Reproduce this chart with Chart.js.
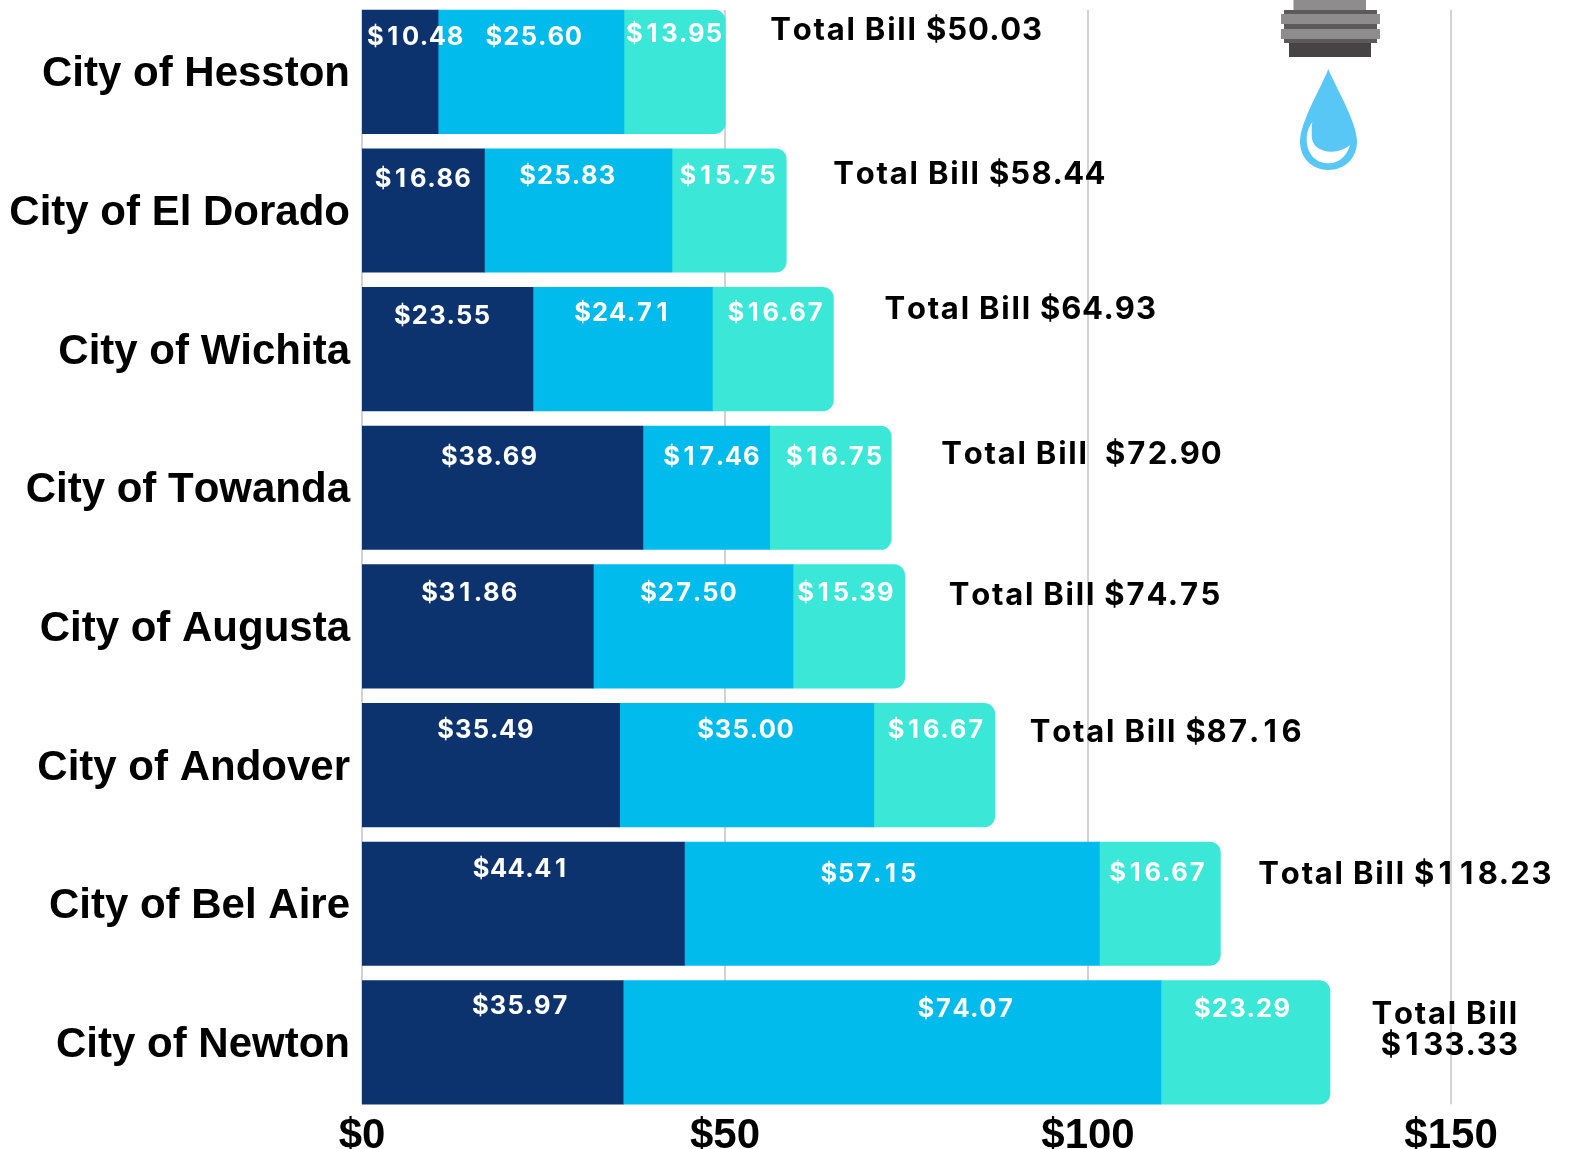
<!DOCTYPE html>
<html>
<head>
<meta charset="utf-8">
<title>Water bills by city</title>
<style>
  html, body { margin: 0; padding: 0; background: #fff; }
  #chart-wrap { width: 1569px; height: 1149px; }
</style>
<script src="https://cdn.jsdelivr.net/npm/chart.js@4"></script>
</head>
<body>
<div id="chart-wrap"><canvas id="bill-chart"></canvas></div>
<script>
// ── Data ───────────────────────────────────────────────────
const cities = ["City of Hesston", "City of El Dorado", "City of Wichita", "City of Towanda",
                "City of Augusta", "City of Andover", "City of Bel Aire", "City of Newton"];
const firstPart  = [10.48, 16.86, 23.55, 38.69, 31.86, 35.49, 44.41, 35.97];
const secondPart = [25.60, 25.83, 24.71, 17.46, 27.50, 35.00, 57.15, 74.07];
const thirdPart  = [13.95, 15.75, 16.67, 16.75, 15.39, 16.67, 16.67, 23.29];
const totalLabels = [["Total Bill $50.03"], ["Total Bill $58.44"], ["Total Bill $64.93"], ["Total Bill  $72.90"],
                     ["Total Bill $74.75"], ["Total Bill $87.16"], ["Total Bill $118.23"], ["Total Bill", "$133.33"]];
const xTicks = [0, 50, 100, 150];

// ── Label nudges (px, the labels were hand placed in the original) ──
const nudgeX = [
    [15.5, 0, -5, -13, -8, -5, -2, 28],
    [3, -10.5, 0, 5.5, -4.5, -1, -23, 74],
    [0, -1, 3, 4, -3, 2, -2, -3],
];
const nudgeY = [
    [27, 31, 29, 31, 29, 27, 27, 26],
    [27, 28, 26, 31, 29, 27, 32, 29],
    [24, 28, 26, 31, 29, 27, 31, 29],
];
const totalGap = [45, 47, 51, 50, 44, 35, 38, 44];
const totalDy  = [21, 26, 22, 29, 31, 29, 33, 34];

const money = (v) => "$" + v.toFixed(2);
const BAR_TOP_OFFSET = 61.75;

// canvas has no font-variant-numeric, so lay the text out with tabular digits by hand.
// Figures and words are spaced differently in the original, hence the style object.
function charAdvance(c, ch, style) {
    const cell = c.measureText("0").width;
    if (/\d/.test(ch)) return cell + style.figures;
    if (/[$.]/.test(ch)) return c.measureText(ch).width + style.figures;
    if (ch === " ") return c.measureText(ch).width + style.letters - style.spaceTrim;
    return c.measureText(ch).width + style.letters;
}

function drawTabular(c, text, x, y, align, style) {
    const cell = c.measureText("0").width;
    let total = 0;
    for (const ch of text) total += charAdvance(c, ch, style);
    let pen = align === "center" ? x - total / 2 : align === "right" ? x - total : x;
    c.textAlign = "left";
    for (const ch of text) {
        const w = c.measureText(ch).width;
        c.fillText(ch, /\d/.test(ch) ? pen + (cell - w) / 2 : pen, y);
        pen += charAdvance(c, ch, style);
    }
}

const valueStyle = { letters: 0.5, figures: 0.5, spaceTrim: 0 };
const totalStyle = { letters: 1.8, figures: 0.45, spaceTrim: 1 };

// ── Gridlines (stop at the first and last bar, not the plot edge) ──
const gridPlugin = {
    id: "shortGrid",
    beforeDraw(chart) {
        chart.ctx.fontKerning = "none"; // original city names are not kerned
    },
    beforeDatasetsDraw(chart) {
        const { ctx, scales } = chart;
        ctx.save();
        ctx.strokeStyle = "#d2d2d2";
        ctx.lineWidth = 2;
        const top = scales.y.getPixelForValue(0) - BAR_TOP_OFFSET;
        const bottom = scales.y.getPixelForValue(cities.length - 1) + BAR_TOP_OFFSET;
        xTicks.forEach((t) => {
            const x = scales.x.getPixelForValue(t);
            ctx.beginPath();
            ctx.moveTo(x, top);
            ctx.lineTo(x, bottom);
            ctx.stroke();
        });
        ctx.restore();
    },
};

// ── Value and total labels ─────────────────────────────────
const labelPlugin = {
    id: "billLabels",
    afterDatasetsDraw(chart) {
        const { ctx, scales } = chart;
        const parts = [firstPart, secondPart, thirdPart];
        ctx.save();
        ctx.textBaseline = "middle";

        // white labels inside the segments
        ctx.fillStyle = "#ffffff";
        ctx.font = "700 25.5px Inter";
        cities.forEach((city, i) => {
            const barTop = scales.y.getPixelForValue(i) - BAR_TOP_OFFSET;
            let base = 0;
            parts.forEach((part, p) => {
                const mid = scales.x.getPixelForValue(base + part[i] / 2);
                drawTabular(ctx, money(part[i]), mid + nudgeX[p][i], barTop + nudgeY[p][i], "center", valueStyle);
                base += part[i];
            });
        });

        // black totals right of the bars
        ctx.fillStyle = "#000000";
        ctx.font = "700 31px Inter";
        cities.forEach((city, i) => {
            const barTop = scales.y.getPixelForValue(i) - BAR_TOP_OFFSET;
            const end = scales.x.getPixelForValue(firstPart[i] + secondPart[i] + thirdPart[i]);
            const lines = totalLabels[i];
            lines.forEach((line, l) => {
                // the two line label is right aligned
                if (lines.length > 1) {
                    drawTabular(ctx, line, end + totalGap[i] + 145, barTop + totalDy[i] + l * 31, "right", totalStyle);
                } else {
                    drawTabular(ctx, line, end + totalGap[i], barTop + totalDy[i], "left", totalStyle);
                }
            });
        });
        ctx.restore();
    },
};

// ── Faucet and drop icon ───────────────────────────────────
const iconPlugin = {
    id: "faucetIcon",
    afterDraw(chart) {
        const ctx = chart.ctx;
        ctx.save();
        ctx.fillStyle = "#8e8c8d";
        ctx.fillRect(1293.5, 0, 72.5, 10);
        ctx.fillStyle = "#5c595a";
        ctx.fillRect(1284, 10, 93, 33);
        ctx.fillStyle = "#8e8c8d";
        ctx.fillRect(1281, 14, 99, 10);
        ctx.fillRect(1281, 29, 99, 10);
        ctx.fillStyle = "#474344";
        ctx.fillRect(1289, 43, 82, 14);

        // drop
        ctx.fillStyle = "#58c7f5";
        ctx.beginPath();
        ctx.moveTo(1328.3, 69);
        ctx.bezierCurveTo(1322, 86, 1300, 122, 1300, 141.5);
        ctx.bezierCurveTo(1300, 158, 1312, 170, 1328.5, 170);
        ctx.bezierCurveTo(1345, 170, 1357, 158, 1357, 141.5);
        ctx.bezierCurveTo(1357, 122, 1335, 86, 1328.3, 69);
        ctx.closePath();
        ctx.fill();

        // highlight
        ctx.fillStyle = "#ffffff";
        ctx.beginPath();
        ctx.moveTo(1312.3, 121.7);
        ctx.bezierCurveTo(1308, 128, 1306.7, 134, 1306.7, 140);
        ctx.bezierCurveTo(1306.7, 154, 1316, 163.3, 1328.3, 163.3);
        ctx.bezierCurveTo(1339, 163.3, 1347, 156, 1350, 145);
        ctx.bezierCurveTo(1345, 149, 1338, 151.7, 1331.7, 151.7);
        ctx.bezierCurveTo(1319, 151.7, 1311.7, 145, 1311.7, 136);
        ctx.bezierCurveTo(1311.7, 130, 1311.7, 126, 1312.3, 121.7);
        ctx.closePath();
        ctx.fill();
        ctx.restore();
    },
};

// ── Chart ──────────────────────────────────────────────────
const ctx = document.getElementById("bill-chart").getContext("2d");
const billChart = new Chart(ctx, {
    type: "bar",
    data: {
        labels: cities,
        datasets: [
            { label: "Part 1", data: firstPart, backgroundColor: "#0d336e" },
            { label: "Part 2", data: secondPart, backgroundColor: "#02bbed" },
            {
                label: "Part 3",
                data: thirdPart,
                backgroundColor: "#3be7d7",
                borderRadius: { topRight: 11, bottomRight: 11 },
                borderSkipped: false,
            },
        ],
    },
    options: {
        indexAxis: "y",
        responsive: true,
        maintainAspectRatio: false,
        animation: false,
        layout: { padding: { top: 2.5, left: 0, right: 0, bottom: 0 } },
        datasets: { bar: { barThickness: 123.5, grouped: false } },
        plugins: { legend: { display: false }, tooltip: { enabled: false } },
        scales: {
            x: {
                stacked: true,
                min: 0,
                max: 166.25,
                afterFit(scale) {
                    scale.height = 37.3;
                    scale.paddingLeft = 0;
                    scale.paddingRight = 0;
                },
                grid: { display: false, drawTicks: false },
                border: { display: false },
                ticks: {
                    stepSize: 50,
                    includeBounds: false,
                    maxRotation: 0,
                    padding: 0,
                    color: "#000000",
                    font: { family: "'Liberation Sans'", size: 42, weight: "700" },
                    callback: (v) => "$" + v,
                },
            },
            y: {
                stacked: true,
                afterFit(scale) {
                    scale.width = 362;
                    scale.paddingTop = 0;
                    scale.paddingBottom = 0;
                },
                grid: { display: false, drawTicks: false },
                border: { display: false },
                ticks: {
                    padding: 12,
                    labelOffset: 3,
                    color: "#000000",
                    font: { family: "'Liberation Sans'", size: 42, weight: "700" },
                },
            },
        },
    },
    plugins: [gridPlugin, labelPlugin, iconPlugin],
});
</script>
</body>
</html>
